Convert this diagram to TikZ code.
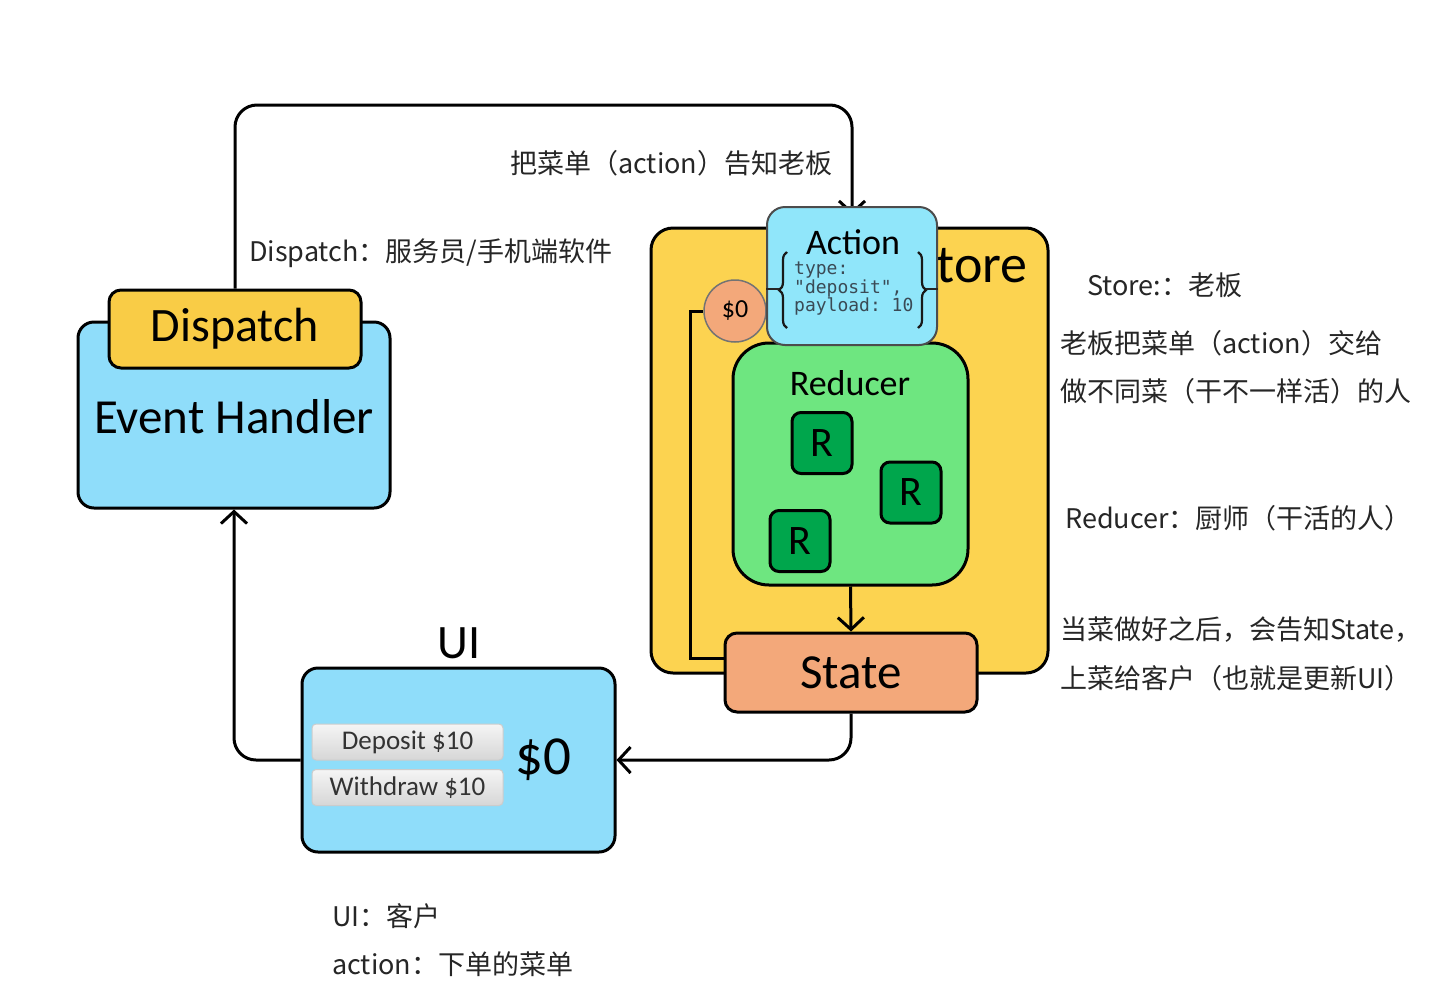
\documentclass[tikz,border=0pt]{standalone}
\usepackage{fontspec}
\setmainfont{Carlito}
\setmonofont{DejaVu Sans Mono}
\newfontfamily\cjk{Noto Sans CJK SC}
\usetikzlibrary{arrows.meta,calc,decorations.pathreplacing}
\pgfdeclarelayer{back}
\pgfdeclarelayer{mid}
\pgfsetlayers{back,mid,main}
\definecolor{lblue}{HTML}{8FDDFA}
\definecolor{cyanb}{HTML}{90E6FA}
\definecolor{dyellow}{HTML}{F9CC46}
\definecolor{syellow}{HTML}{FCD350}
\definecolor{lgreen}{HTML}{6EE680}
\definecolor{dgreen}{HTML}{00A64C}
\definecolor{salmon}{HTML}{F3A87A}
\definecolor{anno}{HTML}{262626}
\definecolor{monoc}{HTML}{3A4A55}
\tikzset{
  box/.style={draw=black,line width=3pt,rounded corners=16pt,inner sep=0pt},
  rbox/.style={box,fill=dgreen,rounded corners=9pt,minimum width=60pt,minimum height=61pt,font=\fontsize{42}{46}\selectfont},
  btn/.style={draw=black!20,line width=1pt,rounded corners=4pt,inner sep=0pt,top color=white!96!black,bottom color=white!84!black,minimum width=191pt,minimum height=36pt,font=\fontsize{27}{30}\selectfont\color{black!80}},
  conn/.style={line width=3pt,rounded corners=22pt},
  arr/.style={conn,-{Straight Barb[length=12pt,width=26pt,line width=3pt]}},
  note/.style={anchor=west,inner sep=0pt,font=\cjk\fontsize{27}{32}\selectfont,text=anno},
  brc/.style={decorate,decoration={brace,amplitude=8pt},line width=2.2pt,black!90},
}
\begin{document}
\begin{tikzpicture}[x=1pt,y=-1pt]
\useasboundingbox (0,0) rectangle (1440,1002);

% Store container (back layer)
\begin{pgfonlayer}{back}
\fill[white] (0,0) rectangle (1440,1002);
\node[box,fill=syellow,rounded corners=22pt,minimum width=397pt,minimum height=445pt] (store) at (849.5,450.5) {};
\node[anchor=east,inner sep=0pt,font=\fontsize{54}{60}\selectfont] (storet) at (1028,265) {Store};
\end{pgfonlayer}

% Event handler & dispatch
\node[box,fill=lblue,minimum width=312pt,minimum height=186pt] (eh) at (234,415) {};
\node[font=\fontsize{49}{54}\selectfont,inner sep=0pt] (ehl) at (234,417) {Event Handler};
\node[box,fill=dyellow,rounded corners=12pt,minimum width=252pt,minimum height=78pt,font=\fontsize{48}{52}\selectfont] (disp) at (235,329) {Dispatch};

% UI
\node[box,fill=lblue,minimum width=313pt,minimum height=184pt] (ui) at (458.5,760) {};
\node[font=\fontsize{48}{52}\selectfont,inner sep=0pt] (uil) at (459,643) {UI};
\node[btn] (dep) at (407.5,742) {Deposit \$10};
\node[btn] (wd) at (407.5,787.5) {Withdraw \$10};
\node[font=\fontsize{55}{60}\selectfont,inner sep=0pt] (bal) at (543,760) {\$0};

% Reducer
\node[box,fill=lgreen,rounded corners=36pt,minimum width=235pt,minimum height=242pt] (red) at (850.5,464) {};
\node[font=\fontsize{36}{40}\selectfont,inner sep=0pt] (redl) at (850,383) {Reducer};
\node[rbox] (r1) at (822,443) {R};
\node[rbox] (r2) at (911,492.5) {R};
\node[rbox] (r3) at (800,541) {R};

% State
\node[box,fill=salmon,rounded corners=12pt,minimum width=252pt,minimum height=79pt,font=\fontsize{49}{54}\selectfont] (state) at (851,672.5) {State};

% $0 circle
\node[circle,draw=black!55,line width=1.5pt,fill=salmon,minimum size=62pt,inner sep=0pt,font=\fontsize{26}{30}\selectfont] (cur) at (735,311) {\$0};

% connectors
\begin{pgfonlayer}{mid}
\draw[arr] (disp.north) -- (235,105) -- (852,105) -- ([yshift=-8pt]852,207);
\draw[conn,rounded corners=0pt] ([yshift=14pt]state.west) -| (690,311) -- (cur.west);
\end{pgfonlayer}
\draw[arr] (ui.west) -| (eh.south);
\draw[arr] (state.south) |- (ui.east);
\draw[arr,rounded corners=0pt] (red.south) -- (state.north);

% Action box
\node[box,fill=cyanb,draw=black!70,line width=2pt,rounded corners=18pt,minimum width=170pt,minimum height=138pt] (act) at (852,276) {};
\node[font=\fontsize{36}{40}\selectfont,inner sep=0pt] (actl) at (853,242) {Action};
\node[font=\ttfamily\fontsize{18}{18.5}\selectfont,text=monoc,align=left,inner sep=0pt,anchor=west] (code) at (794,289) {type:\\"deposit",\\payload: 10};
\coordinate (lbt) at (787,252);
\coordinate (lbb) at (787,328);
\coordinate (rbt) at (918,252);
\coordinate (rbb) at (918,328);
\draw[brc] (lbb) -- (lbt);
\draw[brc] (rbt) -- (rbb);
\draw[line width=2pt,black!85] (act.west |- code) -- ([xshift=-8pt]787,289);
\draw[line width=2pt,black!85] ([xshift=8pt]918,289) -- (act.east |- code);

% annotations
\node[note] (n1) at (510,163) {把菜单（action）告知老板};
\node[note] (n2) at (249,253) {Dispatch：服务员/手机端软件};
\node[note] (n3) at (1087,285) {Store:：老板};
\node[note] (n4) at (1060,343) {老板把菜单（action）交给};
\node[note] (n5) at (1060,391) {做不同菜（干不一样活）的人};
\node[note] (n6) at (1065,518) {Reducer：厨师（干活的人）};
\node[note] (n7) at (1060,630) {当菜做好之后，会告知State，};
\node[note] (n8) at (1060,678) {上菜给客户（也就是更新UI）};
\node[note] (n9) at (332,916) {UI：客户};
\node[note] (n10) at (332,964) {action：下单的菜单};
\end{tikzpicture}
\end{document}
